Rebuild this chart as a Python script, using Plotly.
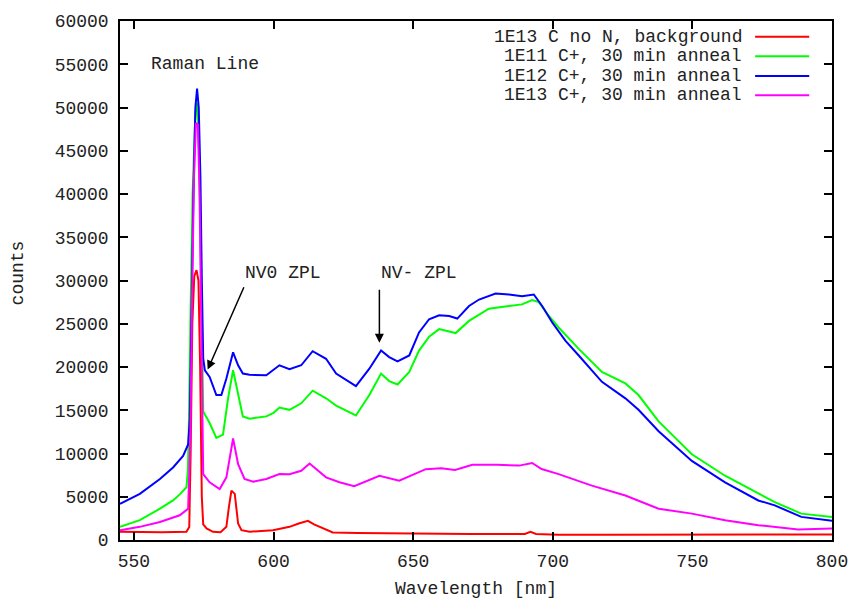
import plotly.graph_objects as go

# ---------------- data ----------------
red_x = [545, 552, 560, 568.8, 569.8, 570.3, 570.9, 571.6, 572.4, 573.1, 573.7, 574.3, 574.8, 576, 578.3,
         581, 583.1, 584.0, 584.9, 586.1, 587.3, 588.5, 591.4, 599.8, 605.7, 609, 612.3, 614.5, 617.6,
         621.2, 630, 641.4, 652, 670, 690, 692, 694, 702, 720, 750, 780, 800]
red_y = [950, 900, 900, 950, 1500, 10000, 25000, 30500, 31200, 30000, 20000, 5000, 1800, 1330, 950,
         900, 1520, 3800, 5710, 5330, 1900, 1140, 950, 1140, 1520, 1900, 2210, 1800, 1330,
         870, 800, 760, 750, 700, 700, 950, 700, 600, 600, 600, 600, 650]

green_x = [545, 552.1, 559.3, 564, 566.5, 568.8, 569.3, 569.6, 570.2, 571, 572, 572.6, 573.3, 574.0, 574.5,
           574.8, 577.1, 579.5, 581.9, 583.7, 585.5, 587.3, 589, 591.4, 597.4, 600, 602.1, 605.7, 609.9,
           614, 618.8, 622.4, 629.5, 634.3, 638.5, 641.4, 644.4, 648.6, 652.1, 653.4, 655.7, 659.3, 665.2,
           670, 677.1, 684.3, 689, 692.6, 695, 698.6, 702.1, 709.3, 717.6, 726, 730.7, 737.9, 749.8,
           761.7, 773.6, 779.5, 789, 800]
green_y = [1520, 2290, 3620, 4570, 5300, 6100, 8000, 12000, 25000, 40000, 49500, 50500, 45000, 30000, 18000,
           14860, 13520, 11810, 12190, 16380, 19620, 16760, 14290, 14020, 14290, 14700, 15310, 15050, 15800,
           17260, 16380, 15540, 14400, 16760, 19240, 18370, 17980, 19430, 21900, 22480, 23500, 24380, 23920,
           25330, 26740, 27050, 27240, 27740, 27510, 25900, 24570, 22100, 19430, 18100, 16760, 13710, 9910,
           7430, 5330, 4380, 3050, 2670]

blue_x = [545, 552.1, 559.3, 564, 567.6, 569.4, 570.0, 570.6, 571.3, 572.0, 572.6, 573.2, 573.8, 574.3,
          574.8, 575.4, 577.1, 579.5, 581.3, 583.1, 585.5, 587.3, 589, 591.4, 597.4, 602.1, 605.7, 609.9,
          614, 618.8, 622.4, 629.5, 634.3, 638.5, 641.4, 644.4, 648.6, 652.1, 655.7, 659.3, 662.9, 665.8,
          670, 673.6, 679.5, 684.3, 689, 693.2, 696.2, 699.8, 704.5, 709.3, 717.6, 726, 730.7, 737.9,
          749.8, 761.7, 773.6, 779.5, 789, 800]
blue_y = [4190, 5330, 7050, 8380, 9710, 11050, 14000, 27400, 40000, 50000, 52200, 50000, 42000, 30000,
          21000, 19600, 18860, 16760, 16760, 18670, 21700, 20200, 19240, 19100, 19050, 20200, 19740, 20200,
          21830, 20950, 19240, 17790, 19800, 21900, 21140, 20650, 21330, 24000, 25520, 25980, 25900, 25600,
          27050, 27800, 28490, 28380, 28190, 28380, 27050, 25140, 23050, 21330, 18290, 16380, 15050, 12570,
          9140, 6670, 4570, 4000, 2670, 2210]

magenta_x = [545, 552.1, 559.3, 566.4, 569.4, 570.2, 570.8, 571.5, 572.2, 572.9, 573.5, 574.0, 574.5, 574.8,
             577.1, 580.7, 583.1, 585.5, 587.3, 589.6, 592.7, 597.4, 602.1, 605.7, 609.9, 612.9, 618.8,
             623.6, 628.9, 634.3, 637.9, 645, 652.1, 654.5, 660, 665, 671.2, 680, 688, 692.6, 696, 702.1,
             714, 726, 737.9, 749.8, 761.7, 773.6, 787.9, 800]
magenta_y = [1140, 1520, 2090, 2860, 3620, 12000, 28000, 42000, 48200, 48000, 40000, 25000, 10000, 7620,
             6670, 5900, 7240, 11730, 8760, 7050, 6740, 7050, 7620, 7600, 8000, 8840, 7240,
             6670, 6210, 6940, 7430, 6860, 7810, 8190, 8300, 8100, 8700, 8700, 8600, 8900, 8200, 7620,
             6290, 5140, 3620, 3050, 2290, 1710, 1220, 1330]

series_names = ["1E13 C no N, background", "1E11 C+, 30 min anneal",
                "1E12 C+, 30 min anneal", "1E13 C+, 30 min anneal"]
series_colors = ["#ff0000", "#00ff00", "#0000ff", "#ff00ff"]

x_ticks = [550, 600, 650, 700, 750, 800]
y_ticks = list(range(0, 60001, 5000))

FONT = "Liberation Mono, Courier New, monospace"
FS = 18
TXT = "#222222"

fig = go.Figure()
data = [(red_x, red_y), (green_x, green_y), (blue_x, blue_y), (magenta_x, magenta_y)]
for i in range(4):
    xs, ys = data[i]
    fig.add_trace(go.Scatter(x=xs, y=ys, mode="lines", name=series_names[i],
                             line=dict(color=series_colors[i], width=2), showlegend=False))

# manual gnuplot-style legend (text right-aligned, sample line to the right)
leg_rows = [0.9695, 0.932, 0.894, 0.857]
annotations = []
shapes = []
for i, yy in enumerate(leg_rows):
    annotations.append(dict(x=0.876, y=yy, xref="paper", yref="paper", text=series_names[i],
                            showarrow=False, xanchor="right", yanchor="middle",
                            font=dict(family=FONT, size=FS, color=TXT)))
    shapes.append(dict(type="line", xref="paper", yref="paper", x0=0.892, x1=0.968, y0=yy, y1=yy,
                       line=dict(color=series_colors[i], width=2)))

annotations += [
    dict(x=555.5, y=55000, text="Raman Line", showarrow=False, xanchor="left", yanchor="middle",
         font=dict(family=FONT, size=FS, color=TXT)),
    dict(x=589.0, y=30900, text="NV0 ZPL", showarrow=False, xanchor="left", yanchor="middle",
         font=dict(family=FONT, size=FS, color=TXT)),
    dict(x=637.9, y=30900, text="NV- ZPL", showarrow=False, xanchor="left", yanchor="middle",
         font=dict(family=FONT, size=FS, color=TXT)),
    dict(x=576.4, y=19700, ax=589.6, ay=29400, xref="x", yref="y", axref="x", ayref="y", text="",
         showarrow=True, arrowhead=2, arrowsize=1.2, arrowwidth=1.5, arrowcolor="black"),
    dict(x=637.9, y=22800, ax=637.9, ay=29100, xref="x", yref="y", axref="x", ayref="y", text="",
         showarrow=True, arrowhead=2, arrowsize=1.2, arrowwidth=1.5, arrowcolor="black"),
    dict(x=0.5, y=-0.095, xref="paper", yref="paper", text="Wavelength [nm]", showarrow=False,
         xanchor="center", yanchor="middle", font=dict(family=FONT, size=FS, color=TXT)),
    dict(x=-0.143, y=0.514, xref="paper", yref="paper", text="counts", showarrow=False, textangle=-90,
         xanchor="center", yanchor="middle", font=dict(family=FONT, size=FS, color=TXT)),
]

axis_common = dict(showline=True, linecolor="black", linewidth=1.5, mirror="ticks", ticks="inside",
                   ticklen=8, tickwidth=1.5, tickcolor="black", showgrid=False, zeroline=False,
                   tickfont=dict(family=FONT, size=FS, color=TXT))

fig.update_layout(
    width=860, height=601,
    margin=dict(l=120, r=26, t=15, b=61),
    paper_bgcolor="white", plot_bgcolor="white",
    xaxis=dict(range=[545, 800], tickvals=x_ticks, ticklabelstandoff=4, **axis_common),
    yaxis=dict(range=[0, 60000], tickvals=y_ticks, tickformat="d", ticklabelstandoff=6, **axis_common),
    annotations=annotations, shapes=shapes,
)

fig.write_html("out.html", config={"displayModeBar": False},
               post_script="document.body.style.margin='0';")
